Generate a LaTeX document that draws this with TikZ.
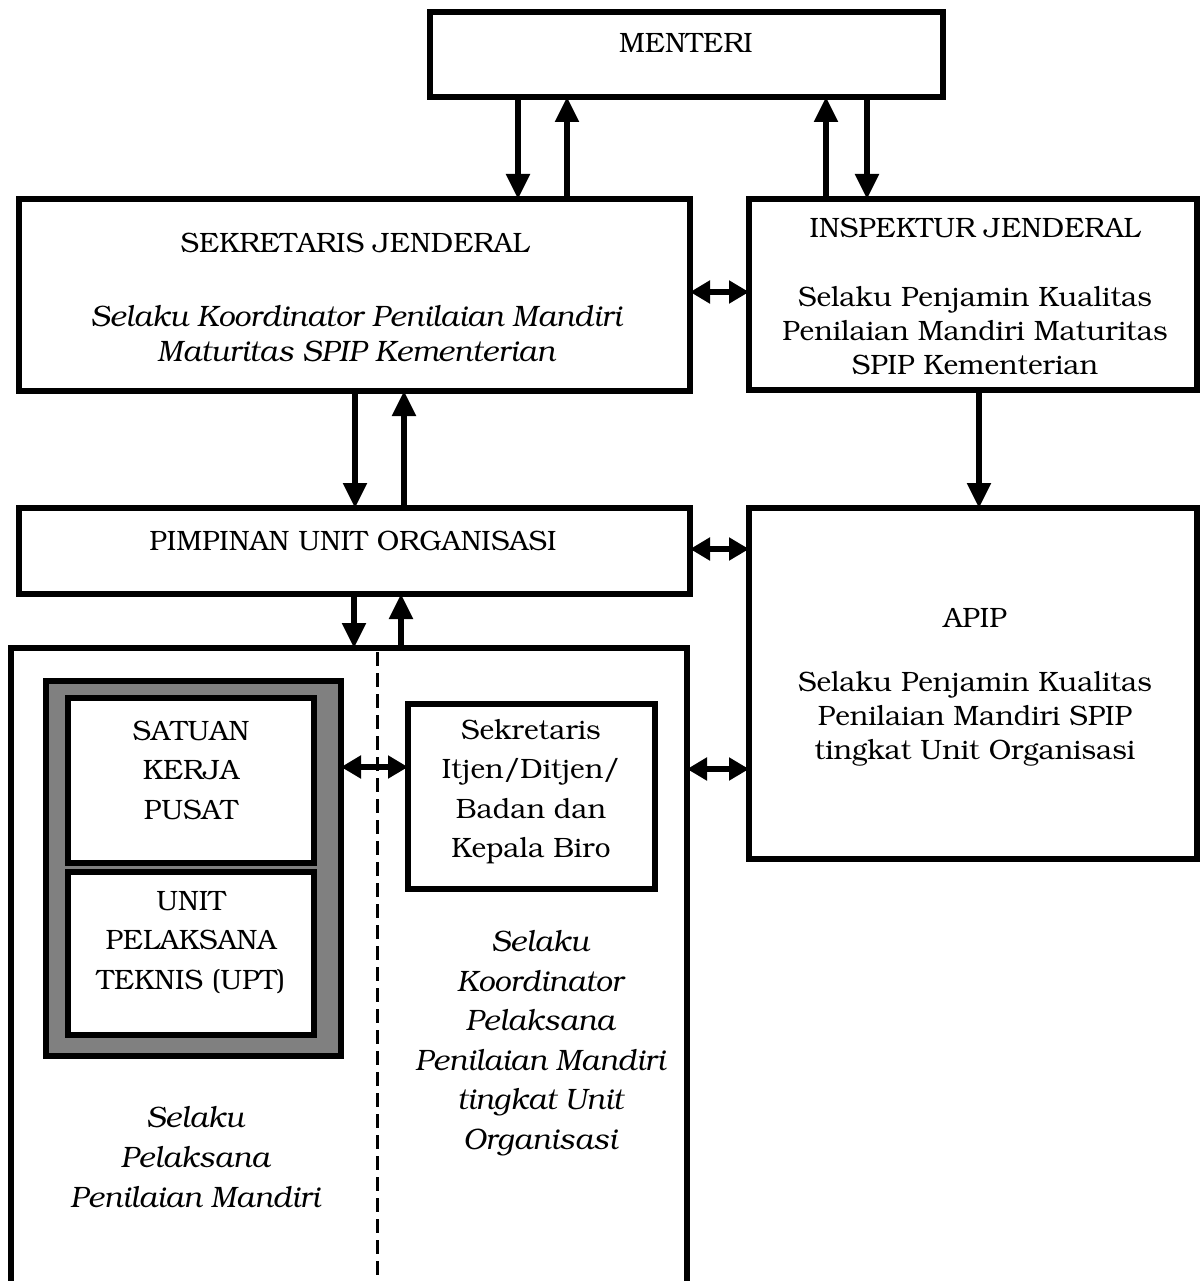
\documentclass[tikz,border=0pt]{standalone}
\usepackage[T1]{fontenc}
\usepackage{bookman}
\usetikzlibrary{arrows.meta,calc}
\begin{document}
\begin{tikzpicture}[x=1pt,y=-1pt,
  box/.style={draw, line width=5.5pt, inner sep=0pt, outer sep=0pt, anchor=north west, fill=white},
  txt/.style={align=center, inner sep=0pt, font=\fontsize{28}{34}\selectfont},
  txtb/.style={align=center, inner sep=0pt, font=\fontsize{28}{39.5}\selectfont},
  itxt/.style={align=center, inner sep=0pt, font=\fontsize{29.5}{39.5}\selectfont\itshape},
  arr/.style={line width=5.5pt, -{Triangle[length=25pt,width=23pt]}},
  darr/.style={line width=6pt, {Triangle[length=20pt,width=22pt]}-{Triangle[length=20pt,width=22pt]}},
  dash line/.style={line width=3pt, dash pattern=on 14pt off 7pt}
]
\useasboundingbox (0,0) rectangle (1201,1281);

% boxes
\node[box, minimum width=513pt, minimum height=85pt] (menteri) at (430,12) {};
\node[box, minimum width=671pt, minimum height=192pt] (sekjen) at (19,199) {};
\node[box, minimum width=448pt, minimum height=191pt] (insp) at (749,199) {};
\node[box, minimum width=671pt, minimum height=86pt] (puo) at (19,508) {};
\node[box, minimum width=448pt, minimum height=351pt] (apip) at (749,508) {};
\node[box, minimum width=676pt, minimum height=700pt] (unit) at (11,648) {};
\node[box, fill={rgb,255:red,128;green,128;blue,128}, minimum width=295pt, minimum height=375pt] (gray) at (46,681) {};
\node[box, minimum width=246pt, minimum height=165pt] (satuan) at (68,698) {};
\node[box, minimum width=246pt, minimum height=163pt] (upt) at (68,872) {};
\node[box, minimum width=247pt, minimum height=185pt] (sekr) at (408,704) {};

% dashed divider
\coordinate (dtop) at (377,652);
\draw[dash line] (dtop) -- (dtop |- 0,1300);

% texts
\node[txt] (tmenteri) at (686,43) {MENTERI};
\node[txt] (tsekjen) at (355,243) {SEKRETARIS JENDERAL};
\node[itxt, font=\fontsize{29.5}{35}\selectfont\itshape] (ssekjen) at (356,333) {Selaku Koordinator Penilaian Mandiri\\Maturitas SPIP Kementerian};
\node[txt] (tinsp) at (975,228) {INSPEKTUR JENDERAL};
\node[txt] (sinsp) at (975,331) {Selaku Penjamin Kualitas\\Penilaian Mandiri Maturitas\\SPIP Kementerian};
\node[txt] (tpuo) at (353,541) {PIMPINAN UNIT ORGANISASI};
\node[txt] (tapip) at (975,618) {APIP};
\node[txt] (sapip) at (975,719) {Selaku Penjamin Kualitas\\Penilaian Mandiri SPIP\\tingkat Unit Organisasi};
\node[txtb] (tsatuan) at (191,770) {SATUAN\\KERJA\\PUSAT};
\node[txtb] (tupt) at (191,942) {UNIT\\PELAKSANA\\TEKNIS (UPT)};
\node[txtb] (tsekr) at (531,792) {Sekretaris\\Itjen/Ditjen/\\Badan dan\\Kepala Biro};
\node[itxt] (skoord) at (540,1043) {Selaku\\Koordinator\\Pelaksana\\Penilaian Mandiri\\tingkat Unit\\Organisasi};
\node[itxt, font=\fontsize{29.5}{40}\selectfont\itshape] (spel) at (195,1157) {Selaku\\Pelaksana\\Penilaian Mandiri};

% vertical arrows
\draw[arr] ([xshift=88pt]menteri.south west) -- ([xshift=88pt]menteri.south west |- sekjen.north);
\draw[arr] ([xshift=137pt]menteri.south west |- sekjen.north) -- ([xshift=137pt]menteri.south west);
\draw[arr] ([xshift=-117pt]menteri.south east |- insp.north) -- ([xshift=-117pt]menteri.south east);
\draw[arr] ([xshift=-76pt]menteri.south east) -- ([xshift=-76pt]menteri.south east |- insp.north);
\draw[arr] ([xshift=336pt]sekjen.south west) -- ([xshift=336pt]sekjen.south west |- puo.north);
\draw[arr] ([xshift=385pt]sekjen.south west |- puo.north) -- ([xshift=385pt]sekjen.south west);
\draw[arr] ([xshift=230pt]insp.south west) -- ([xshift=230pt]insp.south west |- apip.north);
\draw[arr] ([xshift=335pt]puo.south west) -- ([xshift=335pt]puo.south west |- unit.north);
\draw[arr] ([xshift=382pt]puo.south west |- unit.north) -- ([xshift=382pt]puo.south west);

% horizontal double arrows
\draw[darr] ([yshift=-93pt]sekjen.north east) -- ([yshift=-93pt]sekjen.north east -| insp.west);
\draw[darr] ([yshift=-41pt]puo.north east) -- ([yshift=-41pt]puo.north east -| apip.west);
\draw[darr] ([yshift=-121pt]unit.north east) -- ([yshift=-121pt]unit.north east -| apip.west);
\draw[darr] ([yshift=-86pt]gray.north east) -- ([yshift=-86pt]gray.north east -| sekr.west);
\end{tikzpicture}
\end{document}
